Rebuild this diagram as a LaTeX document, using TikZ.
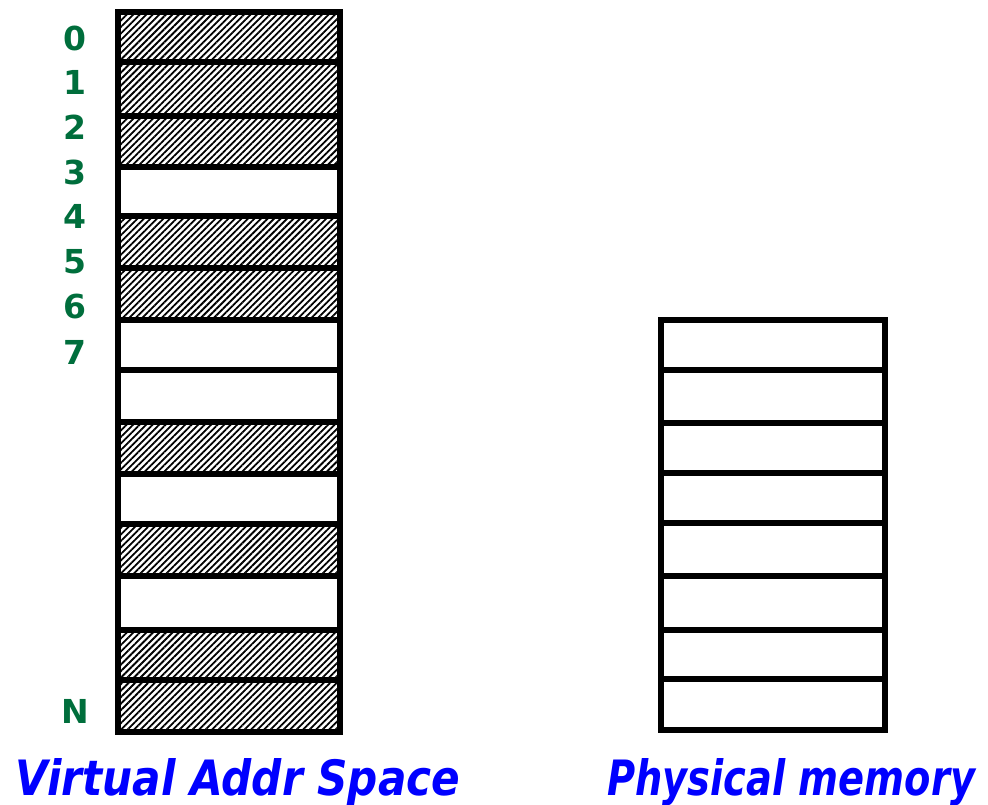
\documentclass[tikz,border=0pt]{standalone}
\usepackage{fontspec}
\setmainfont{DejaVu Sans}
\usetikzlibrary{patterns.meta}
\definecolor{labelgreen}{RGB}{0,110,60}
\definecolor{titleblue}{RGB}{0,0,255}
\begin{document}
\begin{tikzpicture}[x=1pt,y=-1pt,
  cell/.style={draw=black,line width=5.5pt,inner sep=0pt,outer sep=0pt,fill=white},
  hatched/.style={pattern={Lines[angle=45,distance=4.6pt,line width=1.8pt]},pattern color=black},
  idx/.style={text=labelgreen,font=\bfseries\fontsize{33}{33}\selectfont,inner sep=0pt},
  caption/.style={text=titleblue,font=\bfseries\itshape\fontsize{44}{44}\selectfont,inner sep=0pt,anchor=base west}]
\useasboundingbox (0,0) rectangle (988,805);
% virtual address space: 14 pages (1 = in use)
\foreach \t/\b/\u [count=\i from 0] in {12/62/1,62/116/1,116/167/1,167/216/0,216/268/1,268/320/1,320/370/0,370/422/0,422/474/1,474/524/0,524/576/1,576/630/0,630/680/1,680/732/1}{
  \pgfmathsetmacro\hh{\b-\t}
  \pgfmathsetmacro\cy{(\t+\b)/2}
  \node[cell,minimum width=222pt,minimum height=\hh pt] (v\i) at (229,\cy) {};
  \ifnum\u=1
    \fill[hatched] (120,\t+2.75) rectangle (338,\b-2.75);
  \fi
}
% physical memory: 8 frames
\foreach \t/\b [count=\i from 0] in {320/370,370/423,423/473,473/523,523/576,576/630,630/679,679/730}{
  \pgfmathsetmacro\hh{\b-\t}
  \pgfmathsetmacro\cy{(\t+\b)/2}
  \node[cell,minimum width=224pt,minimum height=\hh pt] (p\i) at (773,\cy) {};
}
% page numbers
\foreach \n/\y [count=\i from 0] in {0/38,1/82,2/127,3/172,4/216,5/262,6/307,7/352,N/711}{
  \node[idx] (n\i) at (75,\y) {\n};
}
\node[caption] (vas) at (15,795) {\resizebox{445pt}{37pt}{Virtual Addr Space}};
\node[caption] (pm) at (607,795) {\resizebox{368pt}{37pt}{Physical memory}};
\end{tikzpicture}
\end{document}
